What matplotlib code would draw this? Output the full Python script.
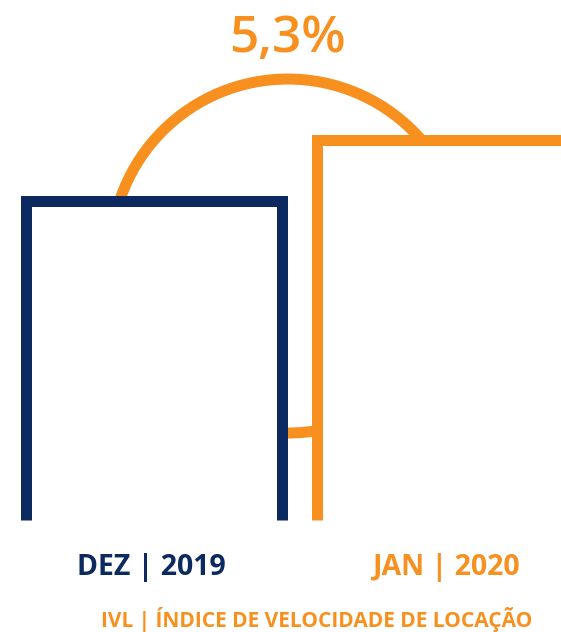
import matplotlib
matplotlib.use("Agg")
import matplotlib.pyplot as plt
from matplotlib.patches import Ellipse

# IVL - índice de velocidade de locação (dez/2019 = base 100)
periods = ["DEZ | 2019", "JAN | 2020"]
values = [100.0, 105.3]
change_label = "5,3%"
footer = "IVL | ÍNDICE DE VELOCIDADE DE LOCAÇÃO"

NAVY = "#0c2a5f"
ORANGE = "#f7901e"
colors = [NAVY, ORANGE]

W, H, DPI = 561, 632, 100
fig = plt.figure(figsize=(W / DPI, H / DPI), dpi=DPI)
plt.rcParams["font.family"] = ["Open Sans", "DejaVu Sans"]

# axes spans the whole width, baseline of bars at 520 px from the top
ax = fig.add_axes([0, (H - 520) / H, 1, 520 / H])
ax.set_xlim(-0.526, 1.396)
ax.set_ylim(71.8, 117.7)
ax.axis("off")

x = [0, 1]
width = 0.877
lw_pt = 11 * 72 / DPI
base = ax.get_ylim()[0]

# px per data unit, used to keep the arc round
xpx = W / (ax.get_xlim()[1] - ax.get_xlim()[0])
ypx = 520 / (ax.get_ylim()[1] - ax.get_ylim()[0])

# connector arc between the two bar tops (sits behind the bars)
r_px = 177
cx = x[0] + 0.46
cy = values[0] - 4.9
arc = Ellipse((cx, cy), 2 * r_px / xpx, 2 * r_px / ypx, fill=False,
              edgecolor=ORANGE, linewidth=lw_pt, zorder=1)
ax.add_patch(arc)

for xi, v, c in zip(x, values, colors):
    x0, x1 = xi - width / 2, xi + width / 2
    ax.bar(xi, v - base, width=width, bottom=base, color="white", linewidth=0, zorder=2)
    ax.plot([x0, x0, x1, x1], [base, v, v, base], color=c, linewidth=lw_pt,
            solid_joinstyle="miter", solid_capstyle="butt", zorder=3, clip_on=False)

ax.text(cx, ax.get_ylim()[1] - 39 / ypx, change_label, ha="center", va="center",
        fontsize=37, fontweight="semibold", color=ORANGE)

for xi, lab, c in zip(x, periods, colors):
    fig.text((151.5 + xi * 294) / W, 1 - 568 / H, lab, ha="center", va="center",
             fontsize=20.5, fontweight="bold", color=c)

fig.text(316.5 / W, 1 - 619.5 / H, footer, ha="center", va="center",
         fontsize=15, fontweight="bold", color=ORANGE)

fig.savefig("out.png", dpi=DPI)
plt.close(fig)
